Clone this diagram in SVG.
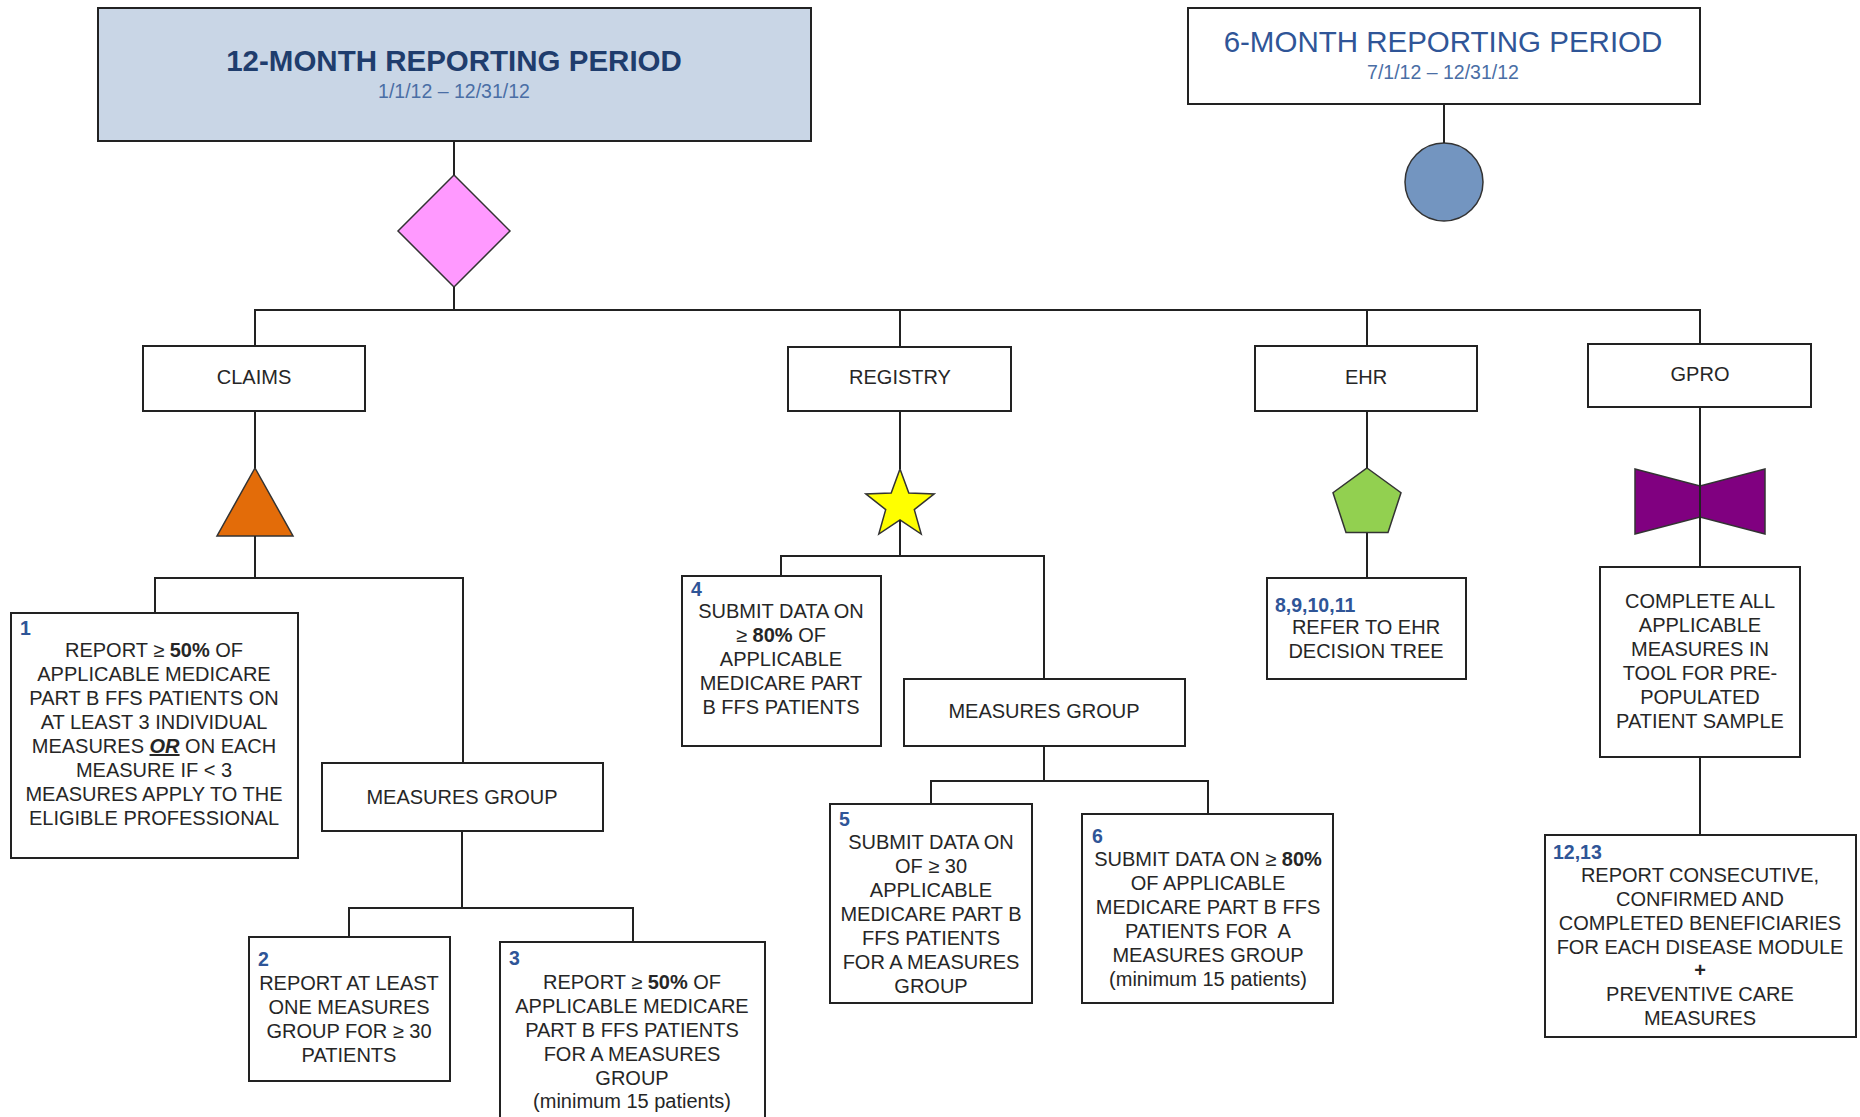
<svg xmlns="http://www.w3.org/2000/svg" width="1860" height="1117" viewBox="0 0 1860 1117">
<style>
.bg{fill:#ffffff}
.box{fill:#ffffff;stroke:#222;stroke-width:2}
.t{font-family:"Liberation Sans",Arial,sans-serif;font-size:20px;fill:#262626;text-anchor:middle}
.n{font-family:"Liberation Sans",Arial,sans-serif;font-size:19.5px;font-weight:bold;fill:#2f5597}
.b{font-weight:bold}
.c{stroke:#222;stroke-width:2;fill:none}
.shape{stroke:#333;stroke-width:1.5}
.title{font-family:"Liberation Sans",Arial,sans-serif;font-size:29.5px;text-anchor:middle}
.date{font-family:"Liberation Sans",Arial,sans-serif;font-size:19.5px;text-anchor:middle;fill:#4a6ea5}
</style>
<rect class="bg" x="0" y="0" width="1860" height="1117"/>

<g id="period12">
<rect x="98" y="8" width="713" height="133" fill="#c9d6e6" stroke="#222" stroke-width="2"/>
<text class="title" x="454" y="71" font-weight="bold" fill="#1f3d6d">12-MONTH REPORTING PERIOD</text>
<text class="date" x="454" y="98">1/1/12 – 12/31/12</text>
</g>
<g id="period6">
<rect class="box" x="1188" y="8" width="512" height="96"/>
<text class="title" x="1443" y="52" fill="#2f5597">6-MONTH REPORTING PERIOD</text>
<text class="date" x="1443" y="79">7/1/12 – 12/31/12</text>
</g>
<g id="diamond"><polygon class="shape" points="454,175 510,231 454,287 398,231" fill="#ff99ff"/></g>
<g id="circle"><circle class="shape" cx="1444" cy="182" r="39" fill="#7395c0"/></g>

<g id="claims"><rect class="box" x="143" y="346" width="222" height="65"/><text class="t" x="254" y="384">CLAIMS</text></g>
<g id="registry"><rect class="box" x="788" y="347" width="223" height="64"/><text class="t" x="900" y="384">REGISTRY</text></g>
<g id="ehr"><rect class="box" x="1255" y="346" width="222" height="65"/><text class="t" x="1366" y="384">EHR</text></g>
<g id="gpro"><rect class="box" x="1588" y="344" width="223" height="63"/><text class="t" x="1700" y="381">GPRO</text></g>

<g id="triangle"><polygon class="shape" points="255,468 293,536 217,536" fill="#e36c09"/></g>
<g id="star"><polygon class="shape" points="900,469 908.8,492.9 934.2,493.9 914.3,509.6 921.2,534.1 900,520 878.8,534.1 885.7,509.6 865.8,493.9 891.2,492.9" fill="#ffff00"/></g>
<g id="pentagon"><polygon class="shape" points="1367,468 1401,492.7 1388,532.6 1346,532.6 1333,492.7" fill="#92d050"/></g>
<g id="bowtie"><polygon class="shape" points="1635,469 1700,486 1765,469 1765,534 1700,517 1635,534" fill="#800080"/></g>

<g id="box1">
<rect class="box" x="11" y="613" width="287" height="245"/>
<text class="n" x="20" y="635">1</text>
<text class="t" x="154" y="657">REPORT ≥ <tspan class="b">50%</tspan> OF</text>
<text class="t" x="154" y="681">APPLICABLE MEDICARE</text>
<text class="t" x="154" y="705">PART B FFS PATIENTS ON</text>
<text class="t" x="154" y="729">AT LEAST 3 INDIVIDUAL</text>
<text class="t" x="154" y="753">MEASURES <tspan font-weight="bold" font-style="italic" text-decoration="underline">OR</tspan> ON EACH</text>
<text class="t" x="154" y="777">MEASURE IF &lt; 3</text>
<text class="t" x="154" y="801">MEASURES APPLY TO THE</text>
<text class="t" x="154" y="825">ELIGIBLE PROFESSIONAL</text>
</g>
<g id="mg1"><rect class="box" x="322" y="763" width="281" height="68"/><text class="t" x="462" y="804">MEASURES GROUP</text></g>
<g id="box2">
<rect class="box" x="249" y="937" width="201" height="144"/>
<text class="n" x="258" y="966">2</text>
<text class="t" x="349" y="990">REPORT AT LEAST</text>
<text class="t" x="349" y="1014">ONE MEASURES</text>
<text class="t" x="349" y="1038">GROUP FOR ≥ 30</text>
<text class="t" x="349" y="1062">PATIENTS</text>
</g>
<g id="box3">
<rect class="box" x="500" y="942" width="265" height="195"/>
<text class="n" x="509" y="965">3</text>
<text class="t" x="632" y="989">REPORT ≥ <tspan class="b">50%</tspan> OF</text>
<text class="t" x="632" y="1013">APPLICABLE MEDICARE</text>
<text class="t" x="632" y="1037">PART B FFS PATIENTS</text>
<text class="t" x="632" y="1061">FOR A MEASURES</text>
<text class="t" x="632" y="1085">GROUP</text>
<text class="t" x="632" y="1108">(minimum 15 patients)</text>
</g>
<g id="box4">
<rect class="box" x="682" y="576" width="199" height="170"/>
<text class="n" x="691" y="596">4</text>
<text class="t" x="781" y="618">SUBMIT DATA ON</text>
<text class="t" x="781" y="642">≥ <tspan class="b">80%</tspan> OF</text>
<text class="t" x="781" y="666">APPLICABLE</text>
<text class="t" x="781" y="690">MEDICARE PART</text>
<text class="t" x="781" y="714">B FFS PATIENTS</text>
</g>
<g id="mg2"><rect class="box" x="904" y="679" width="281" height="67"/><text class="t" x="1044" y="718">MEASURES GROUP</text></g>
<g id="box5">
<rect class="box" x="830" y="804" width="202" height="199"/>
<text class="n" x="839" y="826">5</text>
<text class="t" x="931" y="849">SUBMIT DATA ON</text>
<text class="t" x="931" y="873">OF ≥ 30</text>
<text class="t" x="931" y="897">APPLICABLE</text>
<text class="t" x="931" y="921">MEDICARE PART B</text>
<text class="t" x="931" y="945">FFS PATIENTS</text>
<text class="t" x="931" y="969">FOR A MEASURES</text>
<text class="t" x="931" y="993">GROUP</text>
</g>
<g id="box6">
<rect class="box" x="1082" y="814" width="251" height="189"/>
<text class="n" x="1092" y="843">6</text>
<text class="t" x="1208" y="866">SUBMIT DATA ON ≥ <tspan class="b">80%</tspan></text>
<text class="t" x="1208" y="890">OF APPLICABLE</text>
<text class="t" x="1208" y="914">MEDICARE PART B FFS</text>
<text class="t" x="1208" y="938">PATIENTS FOR&#160; A</text>
<text class="t" x="1208" y="962">MEASURES GROUP</text>
<text class="t" x="1208" y="986">(minimum 15 patients)</text>
</g>
<g id="box8">
<rect class="box" x="1267" y="578" width="199" height="101"/>
<text class="n" x="1275" y="612">8,9,10,11</text>
<text class="t" x="1366" y="634">REFER TO EHR</text>
<text class="t" x="1366" y="658">DECISION TREE</text>
</g>
<g id="gprobox">
<rect class="box" x="1600" y="567" width="200" height="190"/>
<text class="t" x="1700" y="608">COMPLETE ALL</text>
<text class="t" x="1700" y="632">APPLICABLE</text>
<text class="t" x="1700" y="656">MEASURES IN</text>
<text class="t" x="1700" y="680">TOOL FOR PRE-</text>
<text class="t" x="1700" y="704">POPULATED</text>
<text class="t" x="1700" y="728">PATIENT SAMPLE</text>
</g>
<g id="box12">
<rect class="box" x="1545" y="835" width="311" height="202"/>
<text class="n" x="1553" y="859">12,13</text>
<text class="t" x="1700" y="882">REPORT CONSECUTIVE,</text>
<text class="t" x="1700" y="906">CONFIRMED AND</text>
<text class="t" x="1700" y="930">COMPLETED BENEFICIARIES</text>
<text class="t" x="1700" y="954">FOR EACH DISEASE MODULE</text>
<text class="t b" x="1700" y="977">+</text>
<text class="t" x="1700" y="1001">PREVENTIVE CARE</text>
<text class="t" x="1700" y="1025">MEASURES</text>
</g>

<g id="connectors" class="c">
<path d="M454,141 V175"/>
<path d="M454,287 V310"/>
<path d="M1444,104 V143"/>
<path d="M255,346 V310 H1700 V344"/>
<path d="M900,310 V347"/>
<path d="M1367,310 V346"/>
<path d="M255,411 V468"/>
<path d="M255,536 V578"/>
<path d="M155,613 V578 H463 V763"/>
<path d="M462,831 V908"/>
<path d="M349,937 V908 H633 V942"/>
<path d="M900,411 V469"/>
<path d="M900,520 V556"/>
<path d="M781,576 V556 H1044 V679"/>
<path d="M1044,746 V781"/>
<path d="M931,804 V781 H1208 V814"/>
<path d="M1367,411 V468"/>
<path d="M1367,533 V578"/>
<path d="M1700,407 V567"/>
<path d="M1700,757 V835"/>
</g>
</svg>
